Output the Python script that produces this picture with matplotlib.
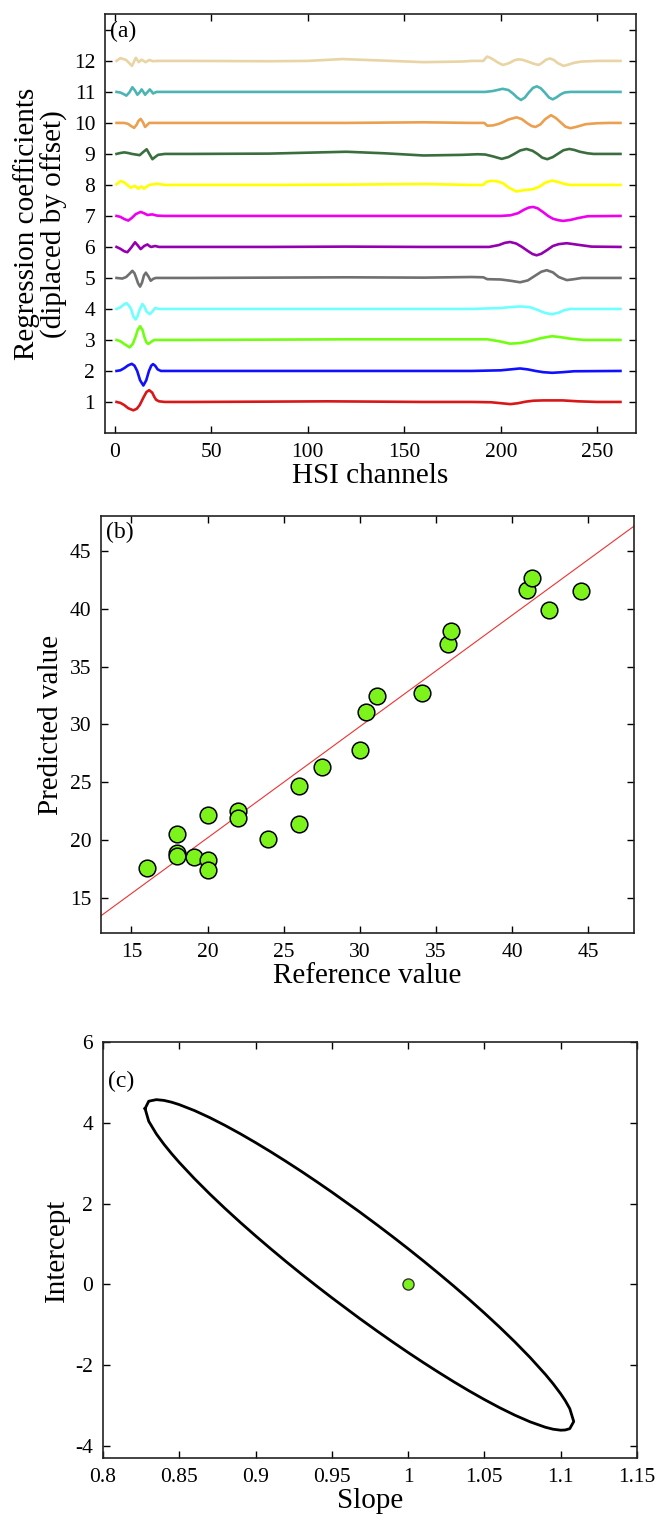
import numpy as np
import matplotlib
matplotlib.use("Agg")
import matplotlib.pyplot as plt

plt.rcParams['font.family'] = ['Liberation Serif', 'DejaVu Serif']
plt.rcParams['axes.unicode_minus'] = False

# ---- panel (a): regression coefficients, one curve per offset (1 = bottom) ----
ch_01 = [1, 3, 5, 7, 9.7, 11.5, 13, 15, 16.5, 17.9, 19.5, 20.5, 21.5, 23, 26, 40, 80, 110, 160,
         185, 195, 200, 205, 209, 213, 217, 222, 232, 240, 250, 262]
dev_01 = [0, -0.03, -0.1, -0.2, -0.27, -0.22, -0.1, 0.15, 0.32, 0.38, 0.3, 0.17, 0.07, 0.02, 0, 0, 0.01, 0.02, 0,
          0, -0.01, -0.04, -0.07, -0.04, 0.01, 0.04, 0.05, 0.05, 0.02, 0, 0]
ch_02 = [1, 3, 5, 7, 8.9, 10.3, 11.7, 13.2, 14.9, 16.4, 17.8, 19, 19.9, 21, 22.3, 24, 26, 40, 80, 120, 160,
         185, 200, 205, 210, 214, 218, 222, 226.6, 232, 238, 262]
dev_02 = [0, 0.02, 0.09, 0.18, 0.23, 0.17, 0, -0.3, -0.47, -0.3, 0, 0.17, 0.22, 0.17, 0.05, 0, 0, 0, 0, 0, 0,
          0, 0.02, 0.05, 0.08, 0.05, 0, -0.04, -0.06, -0.04, -0.01, 0]
ch_03 = [1, 3, 5, 7.8, 9.5, 11, 12, 13.2, 14.4, 15.5, 16.5, 17.5, 19, 20.5, 26, 40, 80, 120, 160,
         185, 193, 199, 204.8, 210, 215, 221, 226.6, 231, 236, 243, 262]
dev_03 = [0, -0.04, -0.13, -0.24, -0.12, 0.13, 0.33, 0.44, 0.33, 0.08, -0.08, -0.13, -0.06, 0, 0, 0, 0.01, 0.02, 0.02,
          0.02, 0.02, -0.04, -0.12, -0.1, -0.04, 0.06, 0.12, 0.09, 0.04, 0, 0]
ch_04 = [1, 3, 5, 6.1, 7.5, 8.5, 9.8, 10.9, 12, 12.8, 14.4, 15.5, 16.5, 18.2, 19.6, 21, 23, 26, 40, 80, 120, 160,
         185, 200, 205, 210, 215, 219, 223, 226.6, 230, 233, 236, 262]
dev_04 = [0, 0.05, 0.15, 0.19, 0.1, 0, -0.25, -0.34, -0.22, -0.05, 0.16, 0.07, -0.08, -0.17, -0.08, 0.03, 0, 0, 0, 0, 0, 0,
          0, 0.03, 0.06, 0.08, 0.06, -0.03, -0.13, -0.17, -0.12, -0.04, 0, 0]
ch_05 = [1, 4, 6, 7.5, 9.2, 10.3, 11.2, 12.2, 13.2, 14.2, 15.2, 16.2, 17.5, 18.7, 20, 21.3, 26, 40, 80, 120, 160,
         185, 191, 193, 200, 205, 210, 214, 218, 221, 223.8, 227, 230, 234.2, 238, 242, 262]
dev_05 = [0, -0.02, 0.03, 0.12, 0.23, 0.15, 0, -0.18, -0.28, -0.15, 0.08, 0.17, 0.05, -0.09, -0.03, 0, 0, 0, 0.01, 0.02, 0.01,
          0.03, 0.02, -0.04, -0.05, -0.09, -0.14, -0.08, 0.08, 0.2, 0.25, 0.18, 0.03, -0.07, -0.04, 0, 0]
ch_06 = [1, 3, 5, 6.6, 8.5, 10.6, 12, 13.5, 15.3, 17, 18.2, 19, 21, 23, 26, 40, 80, 120, 160,
         185, 194, 199, 202, 204.8, 208, 211, 214, 216.5, 218.6, 221, 224, 227, 230, 234.2, 240, 247, 262]
dev_06 = [0, -0.06, -0.14, -0.17, -0.03, 0.15, 0.05, -0.07, 0.03, 0.08, 0.02, 0, 0.03, 0, 0, 0, 0, 0.01, 0,
          0, 0, 0.06, 0.13, 0.16, 0.11, 0, -0.13, -0.23, -0.27, -0.22, -0.1, 0.03, 0.09, 0.12, 0.07, 0.01, 0]
ch_07 = [1, 3, 5, 7.1, 9, 11, 13.5, 15.5, 17, 19.5, 22, 26, 40, 80, 120, 160,
         185, 200, 205, 209, 212, 214.5, 216.7, 219, 222, 224.5, 227, 230, 232.4, 236, 240, 245, 262]
dev_07 = [0, -0.03, -0.1, -0.15, -0.06, 0.06, 0.13, 0.08, 0.03, 0.05, 0.01, 0, 0, 0, 0, 0,
          0, 0, 0.02, 0.09, 0.2, 0.27, 0.29, 0.25, 0.12, 0, -0.09, -0.14, -0.16, -0.13, -0.07, -0.01, 0]
ch_08 = [1, 3.2, 5, 8.3, 10.5, 12.3, 13.8, 15.3, 17.9, 22.2, 26, 40, 80, 120, 160,
         185, 191, 192.5, 195, 198, 201, 204, 208, 212, 216.5, 220, 223, 226.5, 230, 233, 236, 262]
dev_08 = [0.02, 0.13, 0.08, -0.09, -0.03, -0.12, -0.05, -0.12, 0, 0.04, 0, 0, 0, 0.01, 0.03,
          0, 0, 0.1, 0.13, 0.12, 0.06, -0.08, -0.21, -0.17, -0.14, -0.06, 0.07, 0.14, 0.09, 0.03, 0, 0]
ch_09 = [1, 3, 5, 7, 9, 13, 15, 16.6, 18, 19.6, 21, 22.5, 26, 40, 80, 100, 120, 140, 160, 180, 188,
         192, 196, 200.5, 204, 207, 210, 213.3, 216.5, 219, 221.5, 224.1, 227, 230, 232.5, 235.5, 238, 241, 245, 248, 262]
dev_09 = [0, 0.03, 0.05, 0.03, 0, -0.04, 0.07, 0.15, 0, -0.17, -0.1, -0.03, 0, 0, 0.01, 0.04, 0.07, 0.02, -0.05, -0.03, -0.01,
          -0.02, -0.08, -0.16, -0.1, 0, 0.11, 0.16, 0.1, 0, -0.12, -0.17, -0.1, 0.02, 0.12, 0.16, 0.13, 0.07, 0.02, 0, 0]
ch_10 = [1, 5, 7, 8.5, 10.1, 11.5, 12.3, 13.5, 14.7, 15.8, 17, 17.9, 26, 40, 80, 120, 160,
         185, 191.5, 193, 196, 199, 201, 204, 208.2, 211, 213.5, 216, 218, 220.5, 223, 226, 228.5, 231, 233.5, 236, 239, 244, 250, 256, 262]
dev_10 = [0, 0, -0.03, -0.1, -0.16, -0.05, 0.06, 0.13, 0.02, -0.13, -0.06, 0, 0, 0, 0, 0, 0.02,
          0, 0, -0.09, -0.08, -0.03, 0.02, 0.11, 0.18, 0.12, 0, -0.1, -0.13, -0.05, 0.12, 0.25, 0.16, 0.02, -0.12, -0.17, -0.13, -0.04, -0.01, 0, 0]
ch_11 = [1, 3, 5, 6.1, 7.6, 9.2, 10.5, 11.8, 12.9, 14, 14.9, 15.8, 17, 18.2, 19.1, 19.9, 21.7, 26, 40, 80, 120, 160,
         185, 192, 196, 201, 204, 206.5, 208.5, 210.5, 212.5, 214.5, 216.7, 218.7, 220.7, 222.8, 225, 226.9, 229, 231, 233, 236, 262]
dev_11 = [0, -0.02, -0.08, -0.12, -0.02, 0.15, 0.05, -0.09, -0.02, 0.08, 0, -0.09, -0.01, 0.08, 0.02, -0.05, 0, 0, 0, 0, 0, 0,
          0, 0, 0.03, 0.1, 0.06, -0.06, -0.18, -0.26, -0.18, -0.02, 0.13, 0.18, 0.12, -0.02, -0.18, -0.24, -0.17, -0.08, -0.02, 0, 0]
ch_12 = [1, 3, 6, 9, 11, 12.5, 14, 16, 18, 20, 22, 40, 80, 100, 118, 135, 160, 180,
         185, 191, 192, 193, 194.5, 196, 198.5, 201, 203, 205, 207, 209, 211, 214, 217, 219.5, 221, 223.5, 225.5, 227.5, 229.5, 232.5, 235, 238, 242, 250, 262]
dev_12 = [0, 0.09, 0.03, -0.16, 0.1, -0.04, 0.04, -0.04, 0.03, -0.01, 0, 0, -0.01, 0, 0.06, 0.02, -0.04, -0.02,
          0, 0, 0.08, 0.14, 0.1, 0.05, -0.05, -0.13, -0.1, -0.05, 0.02, 0.05, 0.04, -0.02, -0.09, -0.13, -0.08, 0.04, 0.08, 0.03, -0.07, -0.16, -0.12, -0.06, -0.02, 0, 0]

curve_colors = ['#d81818', '#1010ff', '#70ff10', '#70ffff', '#707070', '#9400b0',
                '#ee00ee', '#ffff00', '#3a6e3e', '#eba050', '#4cb4b4', '#e8d4a4']
ytick_labels_a = ['1', '2', '3', '4', '5', '6', '7', '8', '9', '10', '11', '12', '']

# ---- panel (b): reference vs predicted ----
ref_val = [16, 18, 18, 18, 19.1, 20, 20, 20, 22, 22, 24, 26, 26, 27.5, 30, 30.4, 31.1, 34.1, 35.8, 36, 41, 41.3, 42.4, 44.5]
pred_val = [17.6, 20.5, 18.9, 18.65, 18.6, 22.15, 18.3, 17.4, 22.5, 21.95, 20.15, 24.7, 21.4, 26.35, 27.8, 31.1, 32.45, 32.7, 36.95, 38.05, 41.6, 42.6, 39.9, 41.55]
fit_slope = 0.961
fit_intercept = 0.99

# ---- panel (c): joint confidence region of slope and intercept ----
ell_slope = [0.8276, 0.830, 0.835, 0.84, 0.845, 0.85, 0.86, 0.87, 0.88, 0.89, 0.90, 0.91, 0.92, 0.93, 0.94, 0.95,
             0.968, 0.98, 0.99, 1.0, 1.01, 1.02, 1.03, 1.04, 1.05, 1.06, 1.07, 1.08, 1.09, 1.095, 1.1, 1.103, 1.106, 1.1086,
             1.106, 1.103, 1.1, 1.095, 1.09, 1.08, 1.07, 1.06, 1.05, 1.04, 1.03, 1.02, 1.01, 1.0, 0.99, 0.98, 0.968,
             0.95, 0.94, 0.93, 0.92, 0.91, 0.90, 0.89, 0.88, 0.87, 0.86, 0.85, 0.845, 0.84, 0.835, 0.830, 0.8276]
ell_int = [4.355, 4.537, 4.576, 4.557, 4.513, 4.453, 4.305, 4.131, 3.938, 3.731, 3.512, 3.283, 3.045, 2.80, 2.546, 2.286,
           1.80, 1.464, 1.177, 0.883, 0.581, 0.271, -0.046, -0.373, -0.711, -1.061, -1.427, -1.814, -2.232, -2.46, -2.711, -2.88, -3.081, -3.40,
           -3.577, -3.61, -3.615, -3.59, -3.542, -3.408, -3.243, -3.057, -2.855, -2.641, -2.416, -2.181, -1.939, -1.689, -1.431, -1.166, -0.84,
           -0.332, -0.041, 0.258, 0.564, 0.879, 1.202, 1.535, 1.880, 2.239, 2.617, 3.020, 3.237, 3.469, 3.726, 4.041, 4.355]
ideal_point = (1.0, 0.0)

TICK = 15.5
LAB = 21

fig = plt.figure(figsize=(6.6, 15.17), dpi=100)


def style(ax):
    ax.tick_params(direction='in', top=True, right=True, length=5, width=1, labelsize=TICK, pad=7)
    for s in ax.spines.values():
        s.set_linewidth(1.2)
        s.set_color('#222222')


# (a)
ax1 = fig.add_axes([0.159, 0.7146, 0.8045, 0.2759])
chs = [ch_01, ch_02, ch_03, ch_04, ch_05, ch_06, ch_07, ch_08, ch_09, ch_10, ch_11, ch_12]
devs = [dev_01, dev_02, dev_03, dev_04, dev_05, dev_06, dev_07, dev_08, dev_09, dev_10, dev_11, dev_12]
for k in range(12):
    ax1.plot(chs[k], np.array(devs[k]) + (k + 1), color=curve_colors[k], lw=1.9,
             solid_joinstyle='round')
ax1.set_xlim(-5, 270)
ax1.set_ylim(0, 13.5)
ax1.set_xticks([0, 50, 100, 150, 200, 250])
ax1.set_yticks(range(1, 14))
ax1.set_yticklabels(ytick_labels_a)
ax1.set_xlabel('HSI channels', fontsize=LAB, labelpad=1)
ax1.set_ylabel('Regression coefficients\n(diplaced by offset)', fontsize=LAB, linespacing=1.05)
ax1.text(0.01, 0.985, '(a)', transform=ax1.transAxes, va='top', ha='left', fontsize=17)
style(ax1)

# (b)
ax2 = fig.add_axes([0.153, 0.385, 0.8076, 0.2749])
xl = np.array([13, 48])
ax2.plot(xl, fit_slope * xl + fit_intercept, color='#ee3333', lw=0.8)
ax2.plot(ref_val, pred_val, 'o', ms=12, mfc='#7cf41c', mec='black', mew=1.1, ls='none')
ax2.set_xlim(13, 48)
ax2.set_ylim(12, 48)
ax2.set_xticks([15, 20, 25, 30, 35, 40, 45])
ax2.set_yticks([15, 20, 25, 30, 35, 40, 45])
ax2.set_xlabel('Reference value', fontsize=LAB, labelpad=1)
ax2.set_ylabel('Predicted value', fontsize=LAB)
ax2.text(0.01, 0.985, '(b)', transform=ax2.transAxes, va='top', ha='left', fontsize=17)
style(ax2)

# (c)
ax3 = fig.add_axes([0.156, 0.039, 0.809, 0.274])
ax3.plot(ell_slope, ell_int, color='black', lw=2)
ax3.plot([ideal_point[0]], [ideal_point[1]], 'o', ms=8, mfc='#7cf41c', mec='#333333', mew=1)
ax3.set_xlim(0.8, 1.15)
ax3.set_ylim(-4.3, 6)
ax3.set_xticks([0.8, 0.85, 0.9, 0.95, 1.0, 1.05, 1.1, 1.15])
ax3.set_xticklabels(['0.8', '0.85', '0.9', '0.95', '1', '1.05', '1.1', '1.15'])
ax3.set_yticks([-4, -2, 0, 2, 4, 6])
ax3.set_xlabel('Slope', fontsize=LAB, labelpad=1)
ax3.set_ylabel('Intercept', fontsize=LAB)
ax3.text(0.01, 0.93, '(c)', transform=ax3.transAxes, va='top', ha='left', fontsize=17)
style(ax3)

fig.savefig('out.png', dpi=100)
